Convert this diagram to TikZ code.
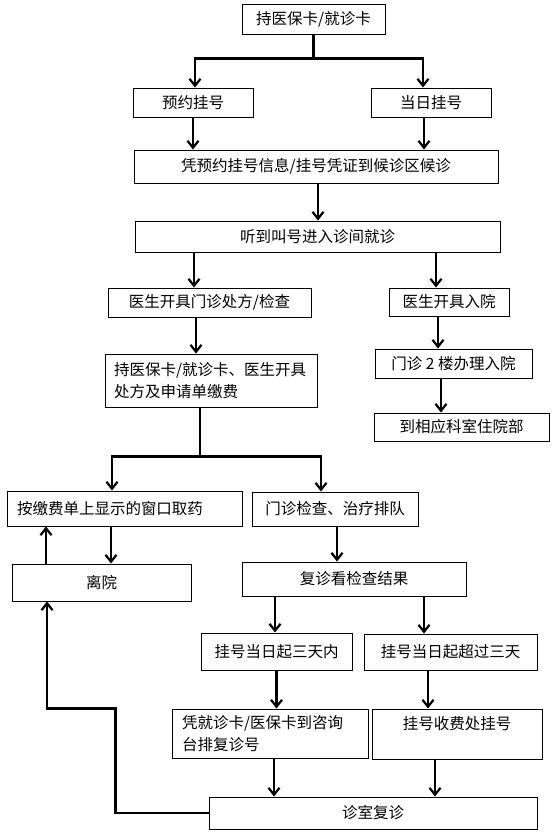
\documentclass[tikz,border=0pt]{standalone}
\usepackage{fontspec}
\setmainfont{Noto Sans CJK SC}
\usetikzlibrary{arrows.meta,calc}
\begin{document}
\begin{tikzpicture}[x=1pt,y=-1pt,
  box/.style={draw,line width=0.9pt,inner sep=0pt,align=center,font=\fontsize{15.5pt}{22pt}\selectfont},
  lbox/.style={box,align=left,text width=#1,inner xsep=10pt},
  arr/.style={line width=2.2pt,-{Straight Barb[length=7pt,width=11pt]}},
  ln/.style={line width=2.2pt}]
\fill[white] (0,0) rectangle (556,836);
\useasboundingbox (0,0) rectangle (556,836);
% boxes
\node[box,minimum width=143pt,minimum height=30pt] (b1) at (313.5,19) {持医保卡/就诊卡};
\node[box,minimum width=120pt,minimum height=29pt] (b2) at (193,102.5) {预约挂号};
\node[box,minimum width=120pt,minimum height=29pt] (b3) at (431,102.5) {当日挂号};
\node[box,minimum width=364pt,minimum height=33pt] (b4) at (316,166.5) {凭预约挂号信息/挂号凭证到候诊区候诊};
\node[box,minimum width=365pt,minimum height=31pt] (b5) at (317.5,236.5) {听到叫号进入诊间就诊};
\node[box,minimum width=203pt,minimum height=29pt] (b6) at (209.5,302.5) {医生开具门诊处方/检查};
\node[box,minimum width=120pt,minimum height=28pt] (b7) at (449,302) {医生开具入院};
\node[lbox=194pt,inner xsep=9pt,minimum height=53pt] (b8) at (211,380.5) {持医保卡/就诊卡、医生开具\\处方及申请单缴费};
\node[box,minimum width=157pt,minimum height=29pt] (b9) at (453.5,363.5) {门诊 2 楼办理入院};
\node[box,minimum width=175pt,minimum height=28pt] (b10) at (461.5,427) {到相应科室住院部};
\node[lbox=215pt,minimum height=35pt] (b11) at (124.5,508.5) {按缴费单上显示的窗口取药};
\node[box,minimum width=166pt,minimum height=34pt] (b12) at (335,509) {门诊检查、治疗排队};
\node[box,minimum width=179pt,minimum height=37pt] (b13) at (101.5,582.5) {离院};
\node[box,minimum width=224pt,minimum height=34pt] (b14) at (354,579) {复诊看检查结果};
\node[box,minimum width=151pt,minimum height=37pt] (b15) at (276.5,651.5) {挂号当日起三天内};
\node[box,minimum width=173pt,minimum height=36pt] (b16) at (450.5,652) {挂号当日起超过三天};
\node[lbox=176pt,minimum height=49pt] (b17) at (270,733.5) {凭就诊卡/医保卡到咨询\\台排复诊号};
\node[box,minimum width=170pt,minimum height=50pt] (b18) at (457,734) {挂号收费处挂号\\\mbox{}};
\node[box,minimum width=328pt,minimum height=32pt] (b19) at (373,813) {诊室复诊};
% helper coordinates
\coordinate (j1) at ([yshift=-24pt]b1.south);
\coordinate (t2) at ([xshift=2pt]b2.north);
\coordinate (t3) at ([xshift=-8pt]b3.north);
\coordinate (s3) at ([xshift=-7pt]b3.south);
\coordinate (s4) at ([xshift=2pt]b4.south);
\coordinate (t6) at ([xshift=-15.5pt]b6.north);
\coordinate (t7) at ([xshift=-13pt]b7.north);
\coordinate (s6) at ([xshift=-13.5pt]b6.south);
\coordinate (s7) at ([xshift=-11pt]b7.south);
\coordinate (s9) at ([xshift=-12.5pt]b9.south);
\coordinate (s8) at ([xshift=-11pt]b8.south);
\coordinate (j2) at ([yshift=-49pt]s8);
\coordinate (t11) at ([xshift=-12.5pt]b11.north);
\coordinate (t12) at ([xshift=-14pt]b12.north);
\coordinate (t13) at ([xshift=9.5pt]b13.north);
\coordinate (u11) at ([xshift=-78.5pt]b11.south);
\coordinate (s12) at ([xshift=2pt]b12.south);
\coordinate (t15) at ([xshift=-1.5pt]b15.north);
\coordinate (t16) at ([xshift=-26.5pt]b16.north);
\coordinate (s16) at ([xshift=-22.5pt]b16.south);
\coordinate (s17) at ([xshift=4pt]b17.south);
\coordinate (s18) at ([xshift=-22pt]b18.south);
\coordinate (k) at ([xshift=-93pt]b19.west);
\coordinate (t13b) at ([xshift=-54.5pt]b13.south);
% connectors
\draw[ln] (b1.south) -- (j1);
\draw[arr] (j1) -| (t2);
\draw[arr] (j1) -| (t3);
\draw[arr] (b2.south) -- (b2.south |- b4.north);
\draw[arr] (s3) -- (s3 |- b4.north);
\draw[arr] (s4) -- (s4 |- b5.north);
\draw[arr] (t6 |- b5.south) -- (t6);
\draw[arr] (t7 |- b5.south) -- (t7);
\draw[arr] (s6) -- (s6 |- b8.north);
\draw[arr] (s7) -- (s7 |- b9.north);
\draw[arr] (s9) -- (s9 |- b10.north);
\draw[ln] (s8) -- (j2);
\draw[arr] (j2) -| (t11);
\draw[arr] (j2) -| (t12);
\draw[arr] (t13 |- b11.south) -- (t13);
\draw[arr] (u11 |- b13.north) -- (u11);
\draw[arr] (s12) -- (s12 |- b14.north);
\draw[arr] (t15 |- b14.south) -- (t15);
\draw[arr] (t16 |- b14.south) -- (t16);
\draw[arr] (b15.south) -- (b15.south |- b17.north);
\draw[arr] (s16) -- (s16 |- b18.north);
\draw[arr] (s17) -- (s17 |- b19.north);
\draw[arr] (s18) -- (s18 |- b19.north);
\draw[arr] (b19.west) -- (k) |- (t13b |- b17.north) -- (t13b);
\end{tikzpicture}
\end{document}
